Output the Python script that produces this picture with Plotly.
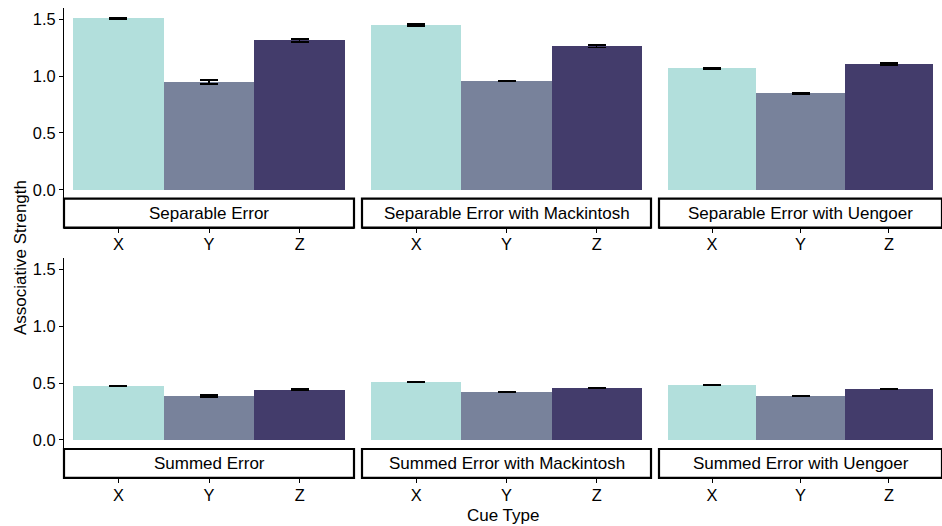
import plotly.graph_objects as go

# Cue categories and model panels
cues = ["X", "Y", "Z"]
panels = [
    "Separable Error",
    "Separable Error with Mackintosh",
    "Separable Error with Uengoer",
    "Summed Error",
    "Summed Error with Mackintosh",
    "Summed Error with Uengoer",
]

# Mean associative strength per panel (X, Y, Z)
means = [
    [1.511, 0.948, 1.315],
    [1.450, 0.957, 1.265],
    [1.071, 0.851, 1.107],
    [0.475, 0.387, 0.440],
    [0.510, 0.422, 0.457],
    [0.484, 0.387, 0.449],
]
# Standard errors per panel (X, Y, Z)
errors = [
    [0.008, 0.018, 0.013],
    [0.008, 0.006, 0.010],
    [0.007, 0.008, 0.010],
    [0.006, 0.008, 0.008],
    [0.004, 0.004, 0.005],
    [0.004, 0.005, 0.006],
]
cue_colors = ["#B2DFDC", "#78829B", "#433C6B"]

W, H = 942, 526
FONT = "Liberation Sans, Arial, Helvetica, sans-serif"
TICK_SIZE = 16.4
TEXT_SIZE = 17.0


def fx(p):
    return p / W


def fy(p):
    return 1 - p / H


col_px = [(64, 354), (362, 651), (659, 942)]
row_px = [(8, 198.4), (258, 448.6)]
strip_px = [(198.6, 227.7), (449, 477.8)]
y_range = [-0.076, 1.6]

fig = go.Figure()
shapes = []
annotations = []

for i, name in enumerate(panels):
    r, c = divmod(i, 3)
    n = i + 1
    xa = "x" if n == 1 else f"x{n}"
    ya = "y" if n == 1 else f"y{n}"
    fig.add_trace(go.Bar(
        x=cues, y=means[i], xaxis=xa, yaxis=ya,
        marker=dict(color=cue_colors, line=dict(width=0)),
        width=1,
        error_y=dict(type="data", array=errors[i], color="black",
                     thickness=1.3, width=9),
        showlegend=False, hoverinfo="x+y",
    ))
    x0, x1 = col_px[c]
    y0, y1 = row_px[r]
    s0, s1 = strip_px[r]
    fig.layout[f"xaxis{'' if n == 1 else n}"] = dict(
        domain=[fx(x0), fx(x1)], anchor="free", position=fy(s1),
        range=[-0.6, 2.6], type="category",
        showline=True, linecolor="black", linewidth=1.2,
        ticks="outside", ticklen=4, tickwidth=1, tickcolor="black",
        ticklabelstandoff=-2,
        tickfont=dict(size=TICK_SIZE, color="black", family=FONT),
        showgrid=False, zeroline=False, fixedrange=True,
    )
    yax = dict(
        domain=[fy(y1), fy(y0)], anchor=xa, range=y_range,
        showgrid=False, zeroline=False, fixedrange=True,
        tickvals=[0, 0.5, 1.0, 1.5], tickformat=".1f",
    )
    if c == 0:
        yax.update(showline=True, linecolor="black", linewidth=1.2,
                   ticks="outside", ticklen=4, tickwidth=1, tickcolor="black",
                   tickfont=dict(size=TICK_SIZE, color="black", family=FONT))
    else:
        yax.update(showline=False, showticklabels=False, ticks="")
    fig.layout[f"yaxis{'' if n == 1 else n}"] = yax

    # strip label box under each panel
    shapes.append(dict(type="rect", xref="paper", yref="paper",
                       x0=fx(x0), x1=fx(x1), y0=fy(s1), y1=fy(s0),
                       line=dict(color="black", width=2.2), fillcolor="white",
                       layer="below"))
    annotations.append(dict(text=name, xref="paper", yref="paper",
                            x=fx((x0 + x1) / 2), y=fy((s0 + s1) / 2),
                            showarrow=False, xanchor="center", yanchor="middle",
                            font=dict(size=TEXT_SIZE, color="black", family=FONT)))

annotations.append(dict(text="Associative Strength", xref="paper", yref="paper",
                        x=fx(20), y=fy(258), textangle=-90, showarrow=False,
                        xanchor="center", yanchor="middle",
                        font=dict(size=TEXT_SIZE, color="black", family=FONT)))
annotations.append(dict(text="Cue Type", xref="paper", yref="paper",
                        x=fx(503), y=0, showarrow=False,
                        xanchor="center", yanchor="bottom", borderpad=0,
                        font=dict(size=TEXT_SIZE, color="black", family=FONT)))

fig.update_layout(
    width=W, height=H,
    margin=dict(l=0, r=0, t=0, b=0),
    paper_bgcolor="white", plot_bgcolor="white",
    bargap=0, shapes=shapes, annotations=annotations,
    font=dict(family=FONT, color="black"),
)

fig.write_html("out.html")
